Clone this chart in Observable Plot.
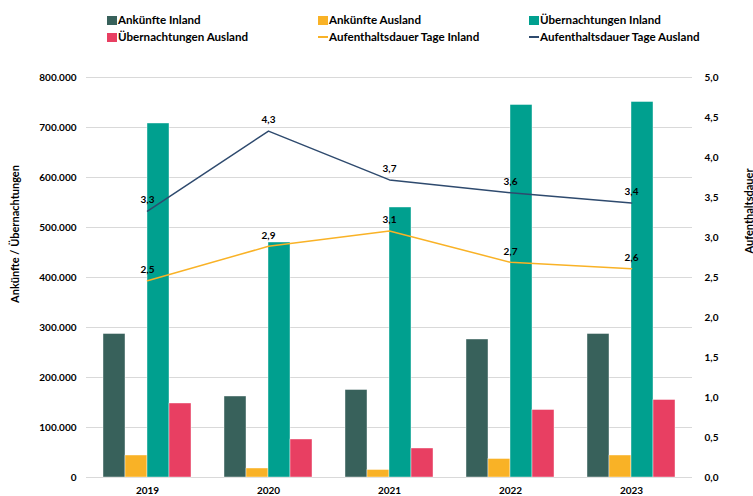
<!DOCTYPE html>
<html><head><meta charset="utf-8">
<script src="https://cdn.jsdelivr.net/npm/d3@7"></script>
<script src="https://cdn.jsdelivr.net/npm/@observablehq/plot@0.6"></script>
<style>
body{margin:0;background:#fff;font-family:Lato,sans-serif;color:#000}
#wrap{position:relative;width:753px;height:496px;overflow:hidden}
#legend{position:absolute;left:0;top:0;width:753px;height:60px}
.item{position:absolute;font-weight:bold;font-size:11.6px;display:flex;align-items:center;white-space:nowrap;line-height:12px}
.sw{width:10px;height:9px;margin-right:1px}
.ln{width:10px;height:2px;margin-right:1px}
#charts{position:absolute;left:0;top:60px;width:753px;height:436px}
#charts svg{position:absolute;left:0;top:0;background:transparent}
.ytitle{position:absolute;font-weight:bold;font-size:11px;white-space:nowrap;transform:translate(-50%,-50%) rotate(-90deg)}
</style></head><body>
<div id="wrap">
  <div id="legend"></div>
  <div id="charts"></div>
  <div class="ytitle" style="left:14px;top:234px">Ankünfte / Übernachtungen</div>
  <div class="ytitle" style="left:748px;top:211px">Aufenthaltsdauer</div>
</div>
<script>
const years = ["2019", "2020", "2021", "2022", "2023"];
const ankuenfteInland = [287000, 162000, 175000, 276000, 287000];
const ankuenfteAusland = [44000, 18000, 15000, 37000, 44000];
const uebernachtungenInland = [708000, 470000, 540000, 745000, 751000];
const uebernachtungenAusland = [148000, 76000, 58000, 135000, 155000];
const dauerInland = [2.46, 2.89, 3.08, 2.69, 2.61];
const dauerAusland = [3.33, 4.33, 3.72, 3.56, 3.43];
const barSeries = ["Ankünfte Inland", "Ankünfte Ausland", "Übernachtungen Inland", "Übernachtungen Ausland"];
const barColors = ["#38615b", "#f9b226", "#00a08f", "#e83f62"];
const lineSeries = ["Aufenthaltsdauer Tage Inland", "Aufenthaltsdauer Tage Ausland"];
const lineColors = ["#f9b226", "#2e4a6e"];
const leftTicks = [0, 100000, 200000, 300000, 400000, 500000, 600000, 700000, 800000];
const rightTicks = [0, 0.5, 1, 1.5, 2, 2.5, 3, 3.5, 4, 4.5, 5];

const de = d3.formatLocale({decimal: ",", thousands: ".", grouping: [3], currency: ["", " €"]});
const fmtInt = de.format(",.0f");
const fmt1 = de.format(".1f");

const barValues = [ankuenfteInland, ankuenfteAusland, uebernachtungenInland, uebernachtungenAusland];
const barData = [];
years.forEach((y, i) => barSeries.forEach((s, j) => barData.push({year: y, series: s, value: barValues[j][i]})));
const lineValues = [dauerInland, dauerAusland];
const lineData = [];
lineSeries.forEach((s, j) => years.forEach((y, i) => lineData.push({year: y, series: s, value: lineValues[j][i]})));

// legend
const legend = document.getElementById("legend");
const legendItems = [
  {label: barSeries[0], color: barColors[0], kind: "sw"},
  {label: barSeries[1], color: barColors[1], kind: "sw"},
  {label: barSeries[2], color: barColors[2], kind: "sw"},
  {label: barSeries[3], color: barColors[3], kind: "sw"},
  {label: lineSeries[0], color: lineColors[0], kind: "ln"},
  {label: lineSeries[1], color: lineColors[1], kind: "ln"}
];
const colX = [107, 318, 529], rowY = [14, 31];
legendItems.forEach((it, k) => {
  const d = document.createElement("div");
  d.className = "item";
  d.style.left = colX[k % 3] + "px";
  d.style.top = rowY[Math.floor(k / 3)] + "px";
  d.innerHTML = `<span class="${it.kind}" style="background:${it.color}"></span><span>${it.label}</span>`;
  legend.appendChild(d);
});

const common = {
  width: 753, height: 436,
  marginLeft: 86, marginRight: 61, marginTop: 17, marginBottom: 19,
  style: {fontFamily: "Lato, sans-serif", fontSize: "10px", fontWeight: "bold", color: "#000", background: "transparent", overflow: "visible"}
};

// layer A: grid + left axis
const gridPlot = Plot.plot({
  ...common,
  x: {domain: years, axis: null},
  y: {domain: [0, 800000], ticks: leftTicks, tickFormat: fmtInt, label: null, tickSize: 0, tickPadding: 10},
  marks: [Plot.ruleY(leftTicks, {stroke: "#d9d9d9", strokeWidth: 1})]
});

// layer B: grouped bars
const barPlot = Plot.plot({
  ...common,
  fx: {domain: years, paddingInner: 0.27, paddingOuter: 0.135, label: null, tickSize: 0, tickPadding: 9, axis: "bottom"},
  x: {domain: barSeries, axis: null, padding: 0},
  y: {domain: [0, 800000], axis: null},
  color: {domain: barSeries, range: barColors},
  marks: [
    Plot.barY(barData, {fx: "year", x: "series", y: "value", fill: "series", stroke: "#ffffff", strokeWidth: 0.6, strokeOpacity: 0.7})
  ]
});

// layer C: lines + right axis
const linePlot = Plot.plot({
  ...common,
  x: {type: "point", domain: years, padding: 0.5, axis: null},
  y: {domain: [0, 5], ticks: rightTicks, tickFormat: fmt1, axis: "right", label: null, tickSize: 0, tickPadding: 12},
  color: {domain: lineSeries, range: lineColors},
  marks: [
    Plot.line(lineData, {x: "year", y: "value", stroke: "series", strokeWidth: 1.5}),
    Plot.text(lineData, {x: "year", y: "value", text: d => fmt1(d.value), dy: -11, fill: "#000", fontWeight: "bold", fontSize: 10})
  ]
});

const charts = document.getElementById("charts");
charts.appendChild(gridPlot);
charts.appendChild(barPlot);
charts.appendChild(linePlot);
</script>
</body></html>
